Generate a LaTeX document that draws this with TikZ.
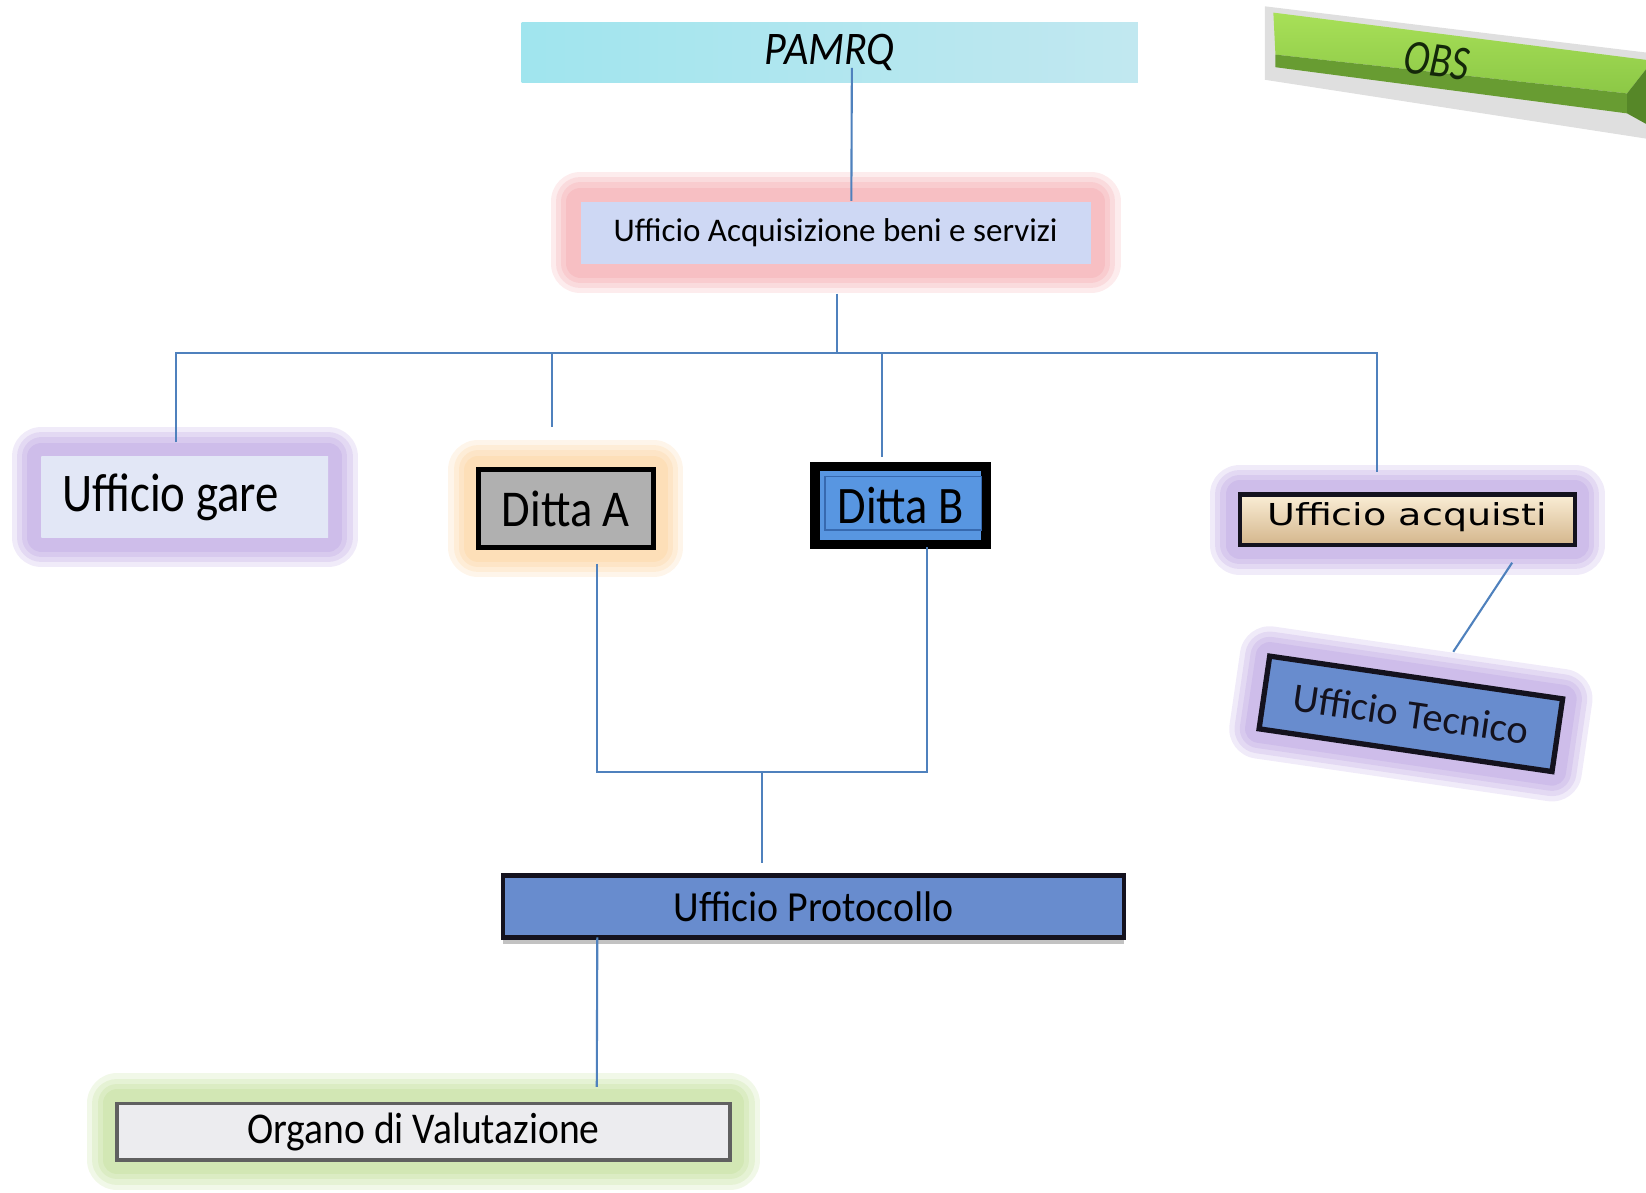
\documentclass[tikz,border=0pt]{standalone}
\usepackage{fontspec}
\setmainfont{Carlito}
\newfontfamily\widefont{DejaVu Sans}
\usepackage{graphicx}
\usetikzlibrary{positioning, shadows}

\definecolor{linkblue}{RGB}{79,129,189}
\definecolor{waterfill}{RGB}{178,226,236}
\definecolor{acqfill}{RGB}{206,216,244}
\definecolor{glowred}{RGB}{236,105,115}
\definecolor{glowpurple}{RGB}{140,100,205}
\definecolor{glowgold}{RGB}{250,180,90}
\definecolor{glowgreen}{RGB}{150,200,80}
\definecolor{gareedge}{RGB}{226,231,246}
\definecolor{garemid}{RGB}{162,182,230}
\definecolor{stonegray}{RGB}{176,176,176}
\definecolor{dittablue}{RGB}{88,150,225}
\definecolor{dittainset}{RGB}{55,105,175}
\definecolor{creamtop}{RGB}{250,238,214}
\definecolor{creambot}{RGB}{212,182,140}
\definecolor{denim}{RGB}{104,140,206}
\definecolor{darkframe}{RGB}{20,18,30}
\definecolor{marble}{RGB}{236,236,239}
\definecolor{obstop}{RGB}{168,224,88}
\definecolor{obsmid}{RGB}{140,200,70}
\definecolor{obsfront}{RGB}{104,156,50}
\definecolor{obsend}{RGB}{86,135,40}
\definecolor{obstext}{RGB}{20,40,10}

\newcommand{\pxu}{0.0105cm}
\newcommand{\squeeze}[2]{\scalebox{#1}[1]{#2}}
\newcommand{\fsz}[1]{\fontsize{#1}{#1}\selectfont}

\begin{document}
\begin{tikzpicture}[x=0.0105cm, y=-0.0105cm,
  glow/.style={preaction={draw=#1, opacity=.13, line width=17pt, line join=round},
               preaction={draw=#1, opacity=.13, line width=14pt, line join=round},
               preaction={draw=#1, opacity=.13, line width=11pt, line join=round},
               preaction={draw=#1, opacity=.13, line width=8pt, line join=round}}]
\tikzstyle{box}=[rectangle, inner sep=0pt, align=center]
\tikzstyle{link}=[draw=linkblue, line width=0.6pt]

\useasboundingbox (0,0) rectangle (1568,1136);

% OBS bar
\fill[gray!55, opacity=.45] (1205,6) -- (1568,50) -- (1568,132) -- (1205,76) -- cycle;
\shade[top color=obstop, bottom color=obsmid] (1213,12) -- (1568,57) -- (1568,66) -- (1550,89) -- (1215,52) -- cycle;
\fill[obsfront] (1215,52) -- (1550,89) -- (1550,108) -- (1215,64) -- cycle;
\fill[obsend] (1550,89) -- (1568,66) -- (1568,118) -- (1550,108) -- cycle;
\node[rotate=-7, font=\fsz{14}\itshape, text=obstext] (obs) at (1369,58) {\squeeze{0.8}{OBS}};

% boxes
\node[box, left color=waterfill!90!cyan, right color=waterfill!80!white,
  minimum width=587*\pxu, minimum height=58*\pxu, font=\fsz{13.3}\itshape] (pamrq) at (790.5,50) {\squeeze{0.9}{PAMRQ}};
\node[box, glow=glowred, fill=acqfill,
  minimum width=486*\pxu, minimum height=59*\pxu, font=\fsz{9.4}] (acq) at (796,221.5) {Ufficio Acquisizione beni e servizi};

\node[box, glow=glowpurple, left color=gareedge, middle color=garemid, right color=gareedge,
  minimum width=273*\pxu, minimum height=77*\pxu, font=\fsz{15.5}] (gare) at (176,473.5) {\squeeze{0.86}{Ufficio gare}\hspace*{8pt}};
\node[box, glow=glowgold, fill=stonegray, draw=black, line width=1.5pt,
  minimum width=167*\pxu, minimum height=74*\pxu, font=\fsz{14.7}] (dittaA) at (539,484.5) {\squeeze{0.9}{Ditta A}};
\node[box, fill=dittablue, draw=black, line width=2.7pt,
  minimum width=163*\pxu, minimum height=74*\pxu, font=\fsz{15}] (dittaB) at (858,481.5) {\squeeze{0.88}{Ditta B}};
\draw[dittainset, line width=0.5pt] ([shift={(14,14)}]dittaB.north west) rectangle ([shift={(-9,-18)}]dittaB.south east);

\node[box, glow=glowpurple, top color=creamtop, bottom color=creambot, draw=darkframe, line width=1.2pt,
  minimum width=319*\pxu, minimum height=48*\pxu, font=\widefont\fsz{8.6}] (acquisti) at (1340.5,495) {\raisebox{3pt}{\squeeze{1.26}{Ufficio acquisti}}};
\node[box, glow=glowpurple, fill=denim, draw=darkframe, line width=1.5pt, rotate=-8.3,
  minimum width=282*\pxu, minimum height=70*\pxu, font=\fsz{11.5}, text=darkframe] (tecnico) at (1344,680) {Ufficio Tecnico};

\node[box, fill=denim, draw=darkframe, line width=1.2pt,
  drop shadow={shadow xshift=0pt, shadow yshift=-2pt, fill=black!40, opacity=.6},
  minimum width=592*\pxu, minimum height=59*\pxu, font=\fsz{12.2}] (prot) at (775,863.5) {\squeeze{0.93}{Ufficio Protocollo}};
\node[box, glow=glowgreen, fill=marble, draw=gray!75!black, line width=1pt,
  minimum width=584*\pxu, minimum height=54*\pxu, font=\fsz{12.5}] (organo) at (403.5,1078) {\squeeze{0.9}{Organo di Valutazione}};

% connectors
\coordinate (bus) at (797,336);
\coordinate (join) at (726,735);

\draw[link] ([shift={(21,-15)}]pamrq.south) -- ([shift={(15,0)}]acq.north);
\draw[link] ([shift={(1,28)}]acq.south) -- (bus);
\draw[link] ([shift={(-8,-13)}]gare.north) |- (bus);
\draw[link] (bus) -| ([shift={(-13,-38)}]dittaA.north);
\draw[link] (bus) -| ([shift={(-18,-5)}]dittaB.north);
\draw[link] (bus) -| ([shift={(-29,-19)}]acquisti.north);
\draw[link] ([shift={(100,15)}]acquisti.south) -- ([shift={(35,-22)}]tecnico.north);
\draw[link] ([shift={(30,13)}]dittaA.south) |- (join) -| ([shift={(25,-2)}]dittaB.south);
\draw[link] (join) -- ([shift={(-49,-10)}]prot.north);
\draw[link] ([shift={(-206,-2)}]prot.south) -- ([shift={(165,-14)}]organo.north);
\end{tikzpicture}
\end{document}
